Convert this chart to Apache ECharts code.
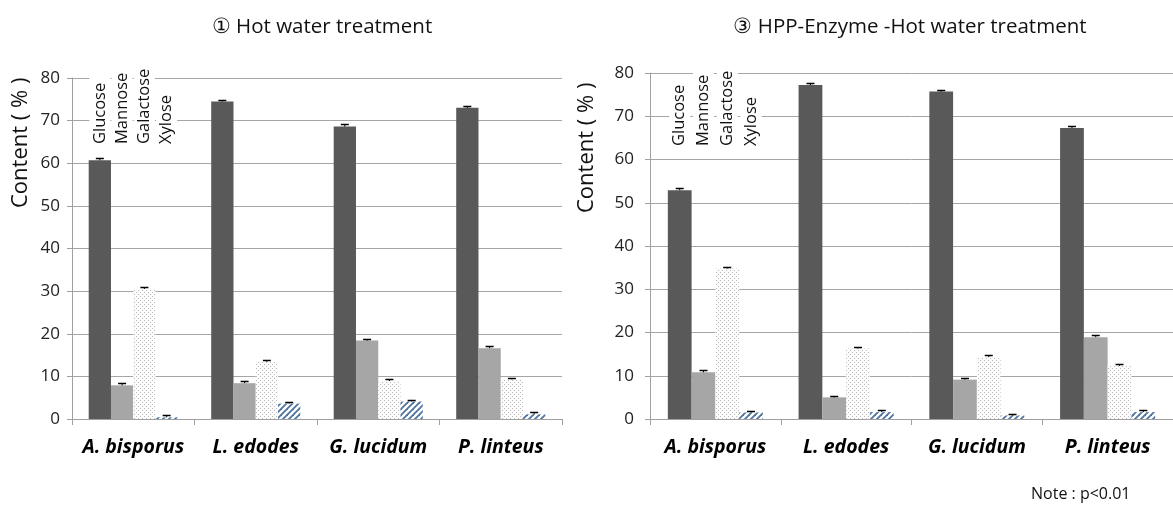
<!DOCTYPE html>
<html>
<head>
<meta charset="utf-8">
<script src="https://cdn.jsdelivr.net/npm/echarts@6/dist/echarts.min.js"></script>
<style>
  html, body { margin: 0; padding: 0; background: #fff; }
  #chart { width: 1173px; height: 513px; }
</style>
</head>
<body>
<div id="chart"></div>
<script>
// Categories and sugars
const species = ['A. bisporus', 'L. edodes', 'G. lucidum', 'P. linteus'];
const sugars = ['Glucose', 'Mannose', 'Galactose', 'Xylose'];
const yMin = 0, yMax = 80, yStep = 10;

// ① Hot water treatment, content (%)
const hotGlucose   = [60.7, 74.5, 68.6, 73.0];
const hotMannose   = [7.9, 8.4, 18.4, 16.6];
const hotGalactose = [30.5, 13.4, 8.9, 9.3];
const hotXylose    = [0.4, 3.6, 4.1, 1.1];
const hotGlucoseSd   = [0.2, 0.2, 0.3, 0.3];
const hotMannoseSd   = [0.2, 0.2, 0.2, 0.2];
const hotGalactoseSd = [0.2, 0.2, 0.2, 0.2];
const hotXyloseSd    = [0.2, 0.2, 0.2, 0.2];

// ③ HPP-Enzyme -Hot water treatment, content (%)
const hppGlucose   = [52.9, 77.2, 75.7, 67.3];
const hppMannose   = [10.8, 5.0, 9.1, 18.9];
const hppGalactose = [34.8, 16.3, 14.3, 12.3];
const hppXylose    = [1.5, 1.6, 0.8, 1.6];
const hppGlucoseSd   = [0.3, 0.2, 0.2, 0.2];
const hppMannoseSd   = [0.2, 0.2, 0.2, 0.2];
const hppGalactoseSd = [0.2, 0.2, 0.2, 0.2];
const hppXyloseSd    = [0.2, 0.2, 0.2, 0.2];

const FONT = '"Open Sans", "Noto Sans", sans-serif';
const GAP_RATIO = 1.5;          // gap between groups, in bar widths
const N_BARS = sugars.length;

// Fill patterns
function dotPattern() {
  const c = document.createElement('canvas');
  c.width = c.height = 4;
  const g = c.getContext('2d');
  g.fillStyle = '#fcfcfc'; g.fillRect(0, 0, 4, 4);
  g.fillStyle = '#bababa';
  g.fillRect(0, 0, 1, 1); g.fillRect(2, 2, 1, 1);
  return c;
}
function stripePattern() {
  const s = 6;
  const c = document.createElement('canvas');
  c.width = c.height = s;
  const g = c.getContext('2d');
  g.fillStyle = '#ffffff'; g.fillRect(0, 0, s, s);
  g.strokeStyle = '#4d72a0'; g.lineWidth = 1.8;
  [[-s, s, s, -s], [0, s, s, 0], [0, 2 * s, 2 * s, 0]].forEach(([x1, y1, x2, y2]) => {
    g.beginPath(); g.moveTo(x1, y1); g.lineTo(x2, y2); g.stroke();
  });
  return c;
}
const fills = [
  '#595959',
  '#a6a6a6',
  { image: dotPattern(), repeat: 'repeat' },
  { image: stripePattern(), repeat: 'repeat' }
];

function barSeries(values, k, gi) {
  return {
    type: 'bar', name: sugars[k], xAxisIndex: gi, yAxisIndex: gi,
    data: values, barGap: 0, barCategoryGap: (GAP_RATIO / (N_BARS + GAP_RATIO) * 100) + '%',
    itemStyle: { color: fills[k] }, silent: true, z: 2
  };
}
function errSeries(values, sds, k, gi) {
  return {
    type: 'custom', xAxisIndex: gi, yAxisIndex: gi, z: 5, silent: true,
    data: values.map((v, i) => [i, v, sds[i]]),
    encode: { x: 0, y: 1 },
    renderItem(params, api) {
      const i = api.value(0), v = api.value(1), sd = api.value(2);
      const catW = api.size([1, 0])[0];
      const bw = catW / (N_BARS + GAP_RATIO);
      const base = api.coord([i, v]);
      const top = api.coord([i, v + sd]);
      const x = base[0] + (k - (N_BARS - 1) / 2) * bw;
      const ty = Math.round(top[1]) - 0.5;
      return {
        type: 'group',
        children: [
          { type: 'line', shape: { x1: x, y1: base[1], x2: x, y2: ty }, style: { stroke: '#000', lineWidth: 1 } },
          { type: 'line', shape: { x1: x - 4, y1: ty, x2: x + 4, y2: ty }, style: { stroke: '#000', lineWidth: 1.5 } }
        ]
      };
    }
  };
}

const groups = [
  { vals: [hotGlucose, hotMannose, hotGalactose, hotXylose], sds: [hotGlucoseSd, hotMannoseSd, hotGalactoseSd, hotXyloseSd] },
  { vals: [hppGlucose, hppMannose, hppGalactose, hppXylose], sds: [hppGlucoseSd, hppMannoseSd, hppGalactoseSd, hppXyloseSd] }
];

const axisGrey = '#a0a0a0';
function xAxis(gi) {
  return {
    type: 'category', gridIndex: gi, data: species,
    axisLine: { lineStyle: { color: axisGrey, width: 1 } },
    axisTick: { show: true, interval: 0, length: 6, lineStyle: { color: axisGrey } },
    axisLabel: { interval: 0, color: '#000', fontSize: 19.5, fontWeight: 'bold', fontStyle: 'italic', fontFamily: FONT, margin: 18 }
  };
}
function yAxis(gi, margin) {
  return {
    type: 'value', gridIndex: gi, min: yMin, max: yMax, interval: yStep,
    axisLine: { show: true, lineStyle: { color: axisGrey } },
    axisTick: { show: true, length: 5, lineStyle: { color: axisGrey } },
    splitLine: { lineStyle: { color: '#a6a6a6', width: 1 } },
    axisLabel: { color: '#222', fontSize: 17, fontFamily: FONT, margin: margin }
  };
}

const series = [];
groups.forEach((g, gi) => {
  g.vals.forEach((v, k) => series.push(barSeries(v, k, gi)));
  g.vals.forEach((v, k) => series.push(errSeries(v, g.sds[k], k, gi)));
});

const staticText = [
  { type: 'text', x: 322, y: 27, style: { text: '① Hot water treatment', fontSize: 20.5, fontFamily: FONT, fill: '#111', textAlign: 'center', textVerticalAlign: 'middle' } },
  { type: 'text', x: 910, y: 27, style: { text: '③ HPP-Enzyme -Hot water treatment', fontSize: 20.5, fontFamily: FONT, fill: '#111', textAlign: 'center', textVerticalAlign: 'middle' } },
  { type: 'text', x: 21, y: 208, rotation: Math.PI / 2, style: { text: 'Content ( % )', fontSize: 22, fontFamily: FONT, fill: '#111', textAlign: 'left', textVerticalAlign: 'middle' } },
  { type: 'text', x: 587, y: 213, rotation: Math.PI / 2, style: { text: 'Content ( % )', fontSize: 22, fontFamily: FONT, fill: '#111', textAlign: 'left', textVerticalAlign: 'middle' } },
  { type: 'text', x: 1031, y: 494, style: { text: 'Note : p<0.01', fontSize: 16, fontFamily: FONT, fill: '#111', textAlign: 'left', textVerticalAlign: 'middle' } }
];

const chart = echarts.init(document.getElementById('chart'), null, { renderer: 'canvas' });
chart.setOption({
  animation: false,
  backgroundColor: '#fff',
  grid: [
    { left: 72, right: 611, top: 78, bottom: 94 },
    { left: 650, right: -10, top: 73, bottom: 94 }
  ],
  xAxis: [xAxis(0), xAxis(1)],
  yAxis: [yAxis(0, 12), yAxis(1, 16)],
  series: series,
  graphic: staticText
});

// Sugar names sit rotated above the first group's bars
const legendBottom = [146, 148];
const legendText = [];
[0, 1].forEach(gi => {
  const c0 = chart.convertToPixel({ xAxisIndex: gi }, 0);
  const c1 = chart.convertToPixel({ xAxisIndex: gi }, 1);
  const bw = (c1 - c0) / (N_BARS + GAP_RATIO);
  sugars.forEach((name, k) => {
    legendText.push({
      type: 'text', x: c0 + (k - (N_BARS - 1) / 2) * bw, y: legendBottom[gi],
      rotation: Math.PI / 2, z: 10,
      style: {
        text: name, fontSize: 16.5, fontFamily: FONT, fill: '#111',
        textAlign: 'left', textVerticalAlign: 'middle',
        backgroundColor: '#fff', padding: [2, 7, 2, 2]
      }
    });
  });
});
chart.setOption({ graphic: staticText.concat(legendText) });
</script>
</body>
</html>
